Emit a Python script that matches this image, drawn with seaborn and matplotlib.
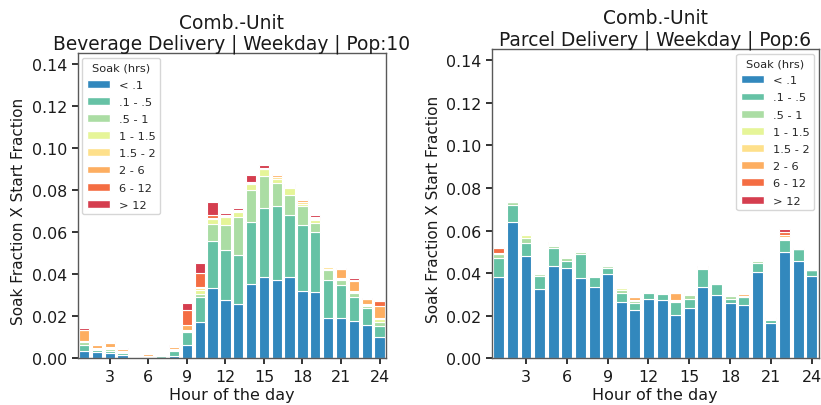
import numpy as np
import pandas as pd
import matplotlib
matplotlib.use("Agg")
import matplotlib.pyplot as plt
from matplotlib.patches import Patch
import seaborn as sns

hours = list(range(1, 25))
soak_bins = ["< .1", ".1 - .5", ".5 - 1", "1 - 1.5", "1.5 - 2", "2 - 6", "6 - 12", "> 12"]
soak_colors = ["#3288bd", "#66c2a5", "#abdda4", "#e6f598", "#fee08b", "#fdae61", "#f46d43", "#d53e4f"]

# Beverage delivery, weekday, pop 10 -- one list per hour, one value per soak bin
beverage = [
    [0.0035, 0.0030, 0.0012, 0.0004, 0.0003, 0.0050, 0.0003, 0.0008],
    [0.0030, 0.0008, 0.0007, 0.0003, 0.0003, 0.0014, 0.0002, 0.0003],
    [0.0024, 0.0012, 0.0010, 0.0005, 0.0004, 0.0020, 0.0003, 0.0004],
    [0.0018, 0.0006, 0.0004, 0.0003, 0.0003, 0.0008, 0.0002, 0.0003],
    [0.0002, 0.0005, 0.0001, 0.0000, 0.0000, 0.0000, 0.0000, 0.0000],
    [0.0001, 0.0003, 0.0002, 0.0002, 0.0003, 0.0008, 0.0001, 0.0001],
    [0.0003, 0.0007, 0.0002, 0.0001, 0.0000, 0.0000, 0.0000, 0.0000],
    [0.0013, 0.0022, 0.0005, 0.0003, 0.0003, 0.0009, 0.0003, 0.0005],
    [0.0062, 0.0065, 0.0003, 0.0001, 0.0002, 0.0027, 0.0072, 0.0030],
    [0.0174, 0.0116, 0.0016, 0.0019, 0.0008, 0.0007, 0.0064, 0.0052],
    [0.0337, 0.0220, 0.0084, 0.0021, 0.0004, 0.0004, 0.0011, 0.0063],
    [0.0277, 0.0238, 0.0118, 0.0040, 0.0003, 0.0002, 0.0003, 0.0013],
    [0.0260, 0.0234, 0.0179, 0.0024, 0.0003, 0.0003, 0.0002, 0.0011],
    [0.0356, 0.0293, 0.0151, 0.0031, 0.0005, 0.0003, 0.0002, 0.0030],
    [0.0388, 0.0328, 0.0150, 0.0034, 0.0003, 0.0003, 0.0002, 0.0010],
    [0.0372, 0.0353, 0.0110, 0.0020, 0.0008, 0.0008, 0.0003, 0.0002],
    [0.0388, 0.0296, 0.0095, 0.0032, 0.0005, 0.0005, 0.0003, 0.0007],
    [0.0320, 0.0313, 0.0092, 0.0011, 0.0008, 0.0008, 0.0005, 0.0003],
    [0.0317, 0.0285, 0.0044, 0.0011, 0.0005, 0.0006, 0.0005, 0.0008],
    [0.0190, 0.0182, 0.0048, 0.0005, 0.0010, 0.0000, 0.0000, 0.0000],
    [0.0193, 0.0155, 0.0024, 0.0005, 0.0003, 0.0044, 0.0002, 0.0002],
    [0.0177, 0.0113, 0.0019, 0.0008, 0.0003, 0.0047, 0.0005, 0.0008],
    [0.0158, 0.0083, 0.0008, 0.0005, 0.0003, 0.0025, 0.0002, 0.0001],
    [0.0103, 0.0051, 0.0020, 0.0013, 0.0006, 0.0056, 0.0023, 0.0005],
]

# Parcel delivery, weekday, pop 6
parcel = [
    [0.0380, 0.0089, 0.0019, 0.0004, 0.0002, 0.0002, 0.0024, 0.0004],
    [0.0638, 0.0081, 0.0015, 0.0000, 0.0000, 0.0000, 0.0000, 0.0000],
    [0.0481, 0.0058, 0.0027, 0.0012, 0.0003, 0.0002, 0.0003, 0.0000],
    [0.0325, 0.0063, 0.0007, 0.0003, 0.0000, 0.0000, 0.0000, 0.0000],
    [0.0433, 0.0083, 0.0011, 0.0007, 0.0003, 0.0002, 0.0002, 0.0007],
    [0.0422, 0.0034, 0.0016, 0.0002, 0.0000, 0.0000, 0.0000, 0.0000],
    [0.0375, 0.0117, 0.0008, 0.0005, 0.0003, 0.0000, 0.0000, 0.0000],
    [0.0336, 0.0044, 0.0008, 0.0000, 0.0000, 0.0000, 0.0000, 0.0000],
    [0.0395, 0.0030, 0.0008, 0.0001, 0.0000, 0.0000, 0.0000, 0.0000],
    [0.0266, 0.0039, 0.0015, 0.0008, 0.0000, 0.0000, 0.0000, 0.0000],
    [0.0227, 0.0031, 0.0011, 0.0003, 0.0002, 0.0012, 0.0000, 0.0000],
    [0.0277, 0.0031, 0.0005, 0.0002, 0.0002, 0.0000, 0.0000, 0.0000],
    [0.0273, 0.0029, 0.0005, 0.0003, 0.0002, 0.0002, 0.0002, 0.0001],
    [0.0203, 0.0063, 0.0004, 0.0002, 0.0001, 0.0032, 0.0000, 0.0000],
    [0.0238, 0.0039, 0.0020, 0.0005, 0.0002, 0.0002, 0.0002, 0.0001],
    [0.0336, 0.0081, 0.0005, 0.0003, 0.0002, 0.0002, 0.0002, 0.0003],
    [0.0297, 0.0051, 0.0003, 0.0002, 0.0001, 0.0002, 0.0000, 0.0000],
    [0.0258, 0.0019, 0.0015, 0.0002, 0.0001, 0.0000, 0.0000, 0.0000],
    [0.0250, 0.0036, 0.0002, 0.0003, 0.0002, 0.0007, 0.0000, 0.0000],
    [0.0403, 0.0045, 0.0008, 0.0003, 0.0003, 0.0002, 0.0000, 0.0000],
    [0.0164, 0.0016, 0.0004, 0.0003, 0.0002, 0.0006, 0.0000, 0.0000],
    [0.0500, 0.0055, 0.0005, 0.0003, 0.0005, 0.0010, 0.0013, 0.0014],
    [0.0458, 0.0053, 0.0002, 0.0001, 0.0000, 0.0000, 0.0002, 0.0000],
    [0.0386, 0.0028, 0.0001, 0.0000, 0.0000, 0.0001, 0.0001, 0.0000],
]

titles = ["Comb.-Unit\nBeverage Delivery | Weekday | Pop:10",
          "Comb.-Unit\nParcel Delivery | Weekday | Pop:6"]
x_ticks = [3, 6, 9, 12, 15, 18, 21, 24]
y_ticks = [0.00, 0.02, 0.04, 0.06, 0.08, 0.10, 0.12, 0.14]


def to_long(table):
    rows = []
    for h, vals in zip(hours, table):
        for s, v in zip(soak_bins, vals):
            rows.append({"hour": h, "soak": s, "frac": v})
    return pd.DataFrame(rows)


sns.set_theme(style="ticks")
plt.rcParams["font.family"] = ["DejaVu Sans"]

fig = plt.figure(figsize=(8.21, 4.06), dpi=100)
ax_l = fig.add_axes([0.0946, 0.115, 0.3755, 0.7512])
ax_r = fig.add_axes([0.5993, 0.115, 0.3977, 0.7618])

palette = dict(zip(soak_bins, soak_colors))
# histplot stacks hue levels with the first level on top, so feed them reversed
stack_order = soak_bins[::-1]

for ax, table, title, loc in [(ax_l, beverage, titles[0], "upper left"),
                              (ax_r, parcel, titles[1], "upper right")]:
    df = to_long(table)
    sns.histplot(data=df, x="hour", weights="frac", hue="soak",
                 hue_order=stack_order, palette=palette, multiple="stack",
                 discrete=True, shrink=0.8, alpha=1, edgecolor="white",
                 linewidth=0.8, legend=False, ax=ax)
    ax.set_xlim(0.5, 24.5)
    ax.set_ylim(0, 0.1452)
    ax.set_xticks(x_ticks)
    ax.set_yticks(y_ticks)
    ax.set_yticklabels([f"{t:.2f}" for t in y_ticks])
    ax.tick_params(labelsize=11.4, colors="0.1", length=4, pad=3.5)
    for sp in ax.spines.values():
        sp.set_color("0.35")
        sp.set_linewidth(1.0)
    ax.set_xlabel("Hour of the day", fontsize=11.5, color="0.1", labelpad=2)
    ax.set_ylabel("Soak Fraction X Start Fraction", fontsize=11, color="0.1", labelpad=4)
    ax.yaxis.label.set_y(0.485)
    ax.set_title(title, fontsize=13.4, color="0.1", pad=2.5, linespacing=1.15)
    handles = [Patch(facecolor=c, edgecolor="white", label=s)
               for s, c in zip(soak_bins, soak_colors)]
    leg = ax.legend(handles=handles, title="Soak (hrs)", loc=loc,
                    fontsize=8.2, title_fontsize=8.2, frameon=True,
                    borderaxespad=0.4, labelspacing=0.63)
    leg.get_frame().set_edgecolor("0.8")

fig.savefig("out.png", dpi=100)
